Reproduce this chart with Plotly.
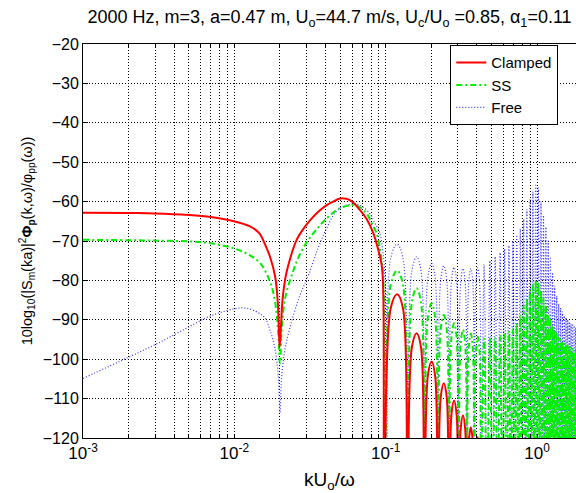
import plotly.graph_objects as go

# ---------------- data ----------------
# main-lobe region, explicit points (x = kU_o/omega, y = dB)
clamped_main_x = [0.001, 0.002, 0.003, 0.005, 0.007, 0.0098, 0.0127, 0.0146, 0.016, 0.0172, 0.0186, 0.0194, 0.0199,
                  0.0203, 0.0208, 0.0214, 0.0221, 0.024, 0.0258, 0.0285, 0.0317, 0.036, 0.0408, 0.045, 0.0497,
                  0.055, 0.06, 0.0675, 0.075, 0.0828, 0.089, 0.0944, 0.0965, 0.098]
clamped_main_db = [-62.8, -62.9, -63.0, -63.4, -63.9, -64.9, -66.3, -68.0, -71.0, -74.0, -79.0, -86.0, -97.0,
                   -92.0, -85.0, -81.0, -78.0, -73.0, -69.7, -67.0, -64.7, -62.5, -60.9, -60.0, -59.2,
                   -59.3, -60.0, -62.1, -64.5, -68.0, -72.0, -76.5, -84.0, -140.0]

ss_main_x = [0.001, 0.002, 0.003, 0.005, 0.007, 0.0098, 0.0125, 0.0148, 0.0172, 0.0185, 0.0195, 0.02,
             0.0206, 0.0218, 0.0246, 0.027, 0.0302, 0.035, 0.0408, 0.0497, 0.061, 0.068, 0.0748, 0.081,
             0.087, 0.0925, 0.0965, 0.1]
ss_main_db = [-69.7, -69.8, -69.9, -70.1, -70.6, -71.8, -73.5, -75.6, -80.3, -85.0, -93.0, -101.0,
              -92.0, -84.0, -77.4, -73.5, -70.2, -67.0, -64.2, -61.7, -60.9, -61.5, -63.0, -65.5,
              -68.0, -73.0, -80.0, -140.0]

free_main_x = [0.001, 0.002, 0.003, 0.004, 0.005, 0.0065, 0.008, 0.01, 0.0115, 0.013, 0.0148, 0.016, 0.0172,
               0.0185, 0.0195, 0.02, 0.0205, 0.0215, 0.0234, 0.027, 0.031, 0.036, 0.041, 0.046, 0.052, 0.058,
               0.063, 0.07, 0.0785, 0.085, 0.0915, 0.096, 0.099, 0.101, 0.103]
free_main_db = [-104.9, -99.5, -96.3, -93.8, -91.8, -89.5, -88.2, -87.2, -87.0, -87.4, -88.5, -89.6, -92.6,
                -97.0, -104.0, -113.5, -105.0, -98.0, -91.7, -84.0, -78.5, -71.5, -66.5, -63.0, -61.3, -60.7,
                -60.6, -61.3, -63.0, -65.5, -68.0, -73.0, -79.0, -88.0, -140.0]

# side-lobe peaks and nulls (x positions shared by the three cases)
lobe_peak_x = [0.119, 0.160, 0.201, 0.242, 0.283, 0.324, 0.365, 0.406, 0.447, 0.488, 0.529, 0.570, 0.611, 0.652,
               0.693, 0.734, 0.775, 0.816, 0.857, 0.898, 0.939, 0.980, 1.021, 1.062, 1.103, 1.144, 1.185, 1.226,
               1.267, 1.308, 1.349, 1.390, 1.431, 1.472, 1.513, 1.554, 1.595, 1.636, 1.677, 1.718, 1.759, 1.800]
lobe_null_x = [0.139, 0.180, 0.221, 0.262, 0.303, 0.344, 0.385, 0.426, 0.467, 0.508, 0.549, 0.590, 0.631, 0.672,
               0.713, 0.754, 0.795, 0.836, 0.877, 0.918, 0.959, 1.000, 1.041, 1.082, 1.123, 1.164, 1.205, 1.246,
               1.287, 1.328, 1.369, 1.410, 1.451, 1.492, 1.533, 1.574, 1.615, 1.656, 1.697, 1.738, 1.779, 1.820]
# shoulders of the first, clearly visible side lobes
lobe_left_x = [0.108, 0.149, 0.190, 0.231, 0.272, 0.313, 0.354, 0.395]
lobe_right_x = [0.130, 0.171, 0.212, 0.253, 0.294, 0.335, 0.376, 0.417]
null_floor_db = -140.0

clamped_peak_db = [-83.5, -93.4, -100.6, -106.1, -110.5, -114.2, -117.3, -119.8, -122.0, -124.0]
clamped_shoulder_db = [-87.0, -96.9, -104.1, -109.6, -114.0, -117.7, -120.8, -123.3]
ss_peak_db = [-77.5, -82.0, -85.8, -88.8, -90.9, -92.5, -93.5, -94.3, -94.8, -94.8, -94.5, -94.0, -93.5, -93.0,
              -92.3, -91.0, -89.0, -86.5, -84.5, -82.5, -81.0, -80.0, -80.5, -82.5, -84.5, -86.5, -88.5, -90.0,
              -91.5, -92.5, -93.5, -94.5, -95.0, -95.5, -96.0, -96.0, -96.5, -97.0, -97.0, -97.5, -98.0, -98.0]
ss_shoulder_db = [-81.0, -85.5, -89.3, -92.3, -94.4, -96.0, -97.0, -97.8]
free_peak_db = [-70.8, -74.0, -75.7, -76.3, -76.7, -77.0, -77.0, -76.8, -76.0, -75.0, -74.0, -73.0, -72.0, -71.2,
                -70.0, -68.5, -67.0, -64.5, -62.0, -59.5, -57.5, -55.5, -56.5, -60.0, -63.5, -66.5, -70.0, -74.0,
                -78.0, -81.5, -84.0, -86.0, -87.0, -88.0, -89.0, -89.5, -90.0, -90.5, -91.0, -91.0, -91.5, -92.0]
free_shoulder_db = [-74.3, -77.5, -79.2, -79.8, -80.2, -80.5, -80.5, -80.3]

x_tick_decades = [-3, -2, -1, 0]
y_ticks = [-120, -110, -100, -90, -80, -70, -60, -50, -40, -30, -20]


def build(main_x, main_db, peak_db, shoulder_db):
    xs, ys = list(main_x), list(main_db)
    for i, p in enumerate(peak_db):
        if i < len(shoulder_db):
            xs += [lobe_left_x[i], lobe_peak_x[i], lobe_right_x[i], lobe_null_x[i]]
            ys += [shoulder_db[i], p, shoulder_db[i], null_floor_db]
        else:
            xs += [lobe_peak_x[i], lobe_null_x[i]]
            ys += [p, null_floor_db]
    return xs, ys


fig = go.Figure()
fx, fy = build(free_main_x, free_main_db, free_peak_db, free_shoulder_db)
sx, sy = build(ss_main_x, ss_main_db, ss_peak_db, ss_shoulder_db)
cx, cy = build(clamped_main_x, clamped_main_db, clamped_peak_db, clamped_shoulder_db)

fig.add_trace(go.Scatter(x=fx, y=fy, mode="lines", name="Free", line_shape="spline",
                         line=dict(color="#3a3aff", width=1.2, dash="1px,2px")))
fig.add_trace(go.Scatter(x=sx, y=sy, mode="lines", name="SS", line_shape="spline",
                         line=dict(color="#00ee00", width=2, dash="6px,3px,2px,3px")))
fig.add_trace(go.Scatter(x=cx, y=cy, mode="lines", name="Clamped", line_shape="spline",
                         line=dict(color="#ff0000", width=2)))

# x tick positions: decades plus minor multiples for the grid
tickvals, ticktext = [], []
for d in x_tick_decades:
    for m in range(1, 10):
        v = m * 10 ** d
        if v <= 1.81:
            tickvals.append(v)
            ticktext.append(f"10<sup>{d}</sup>" if m == 1 else "")

font_family = "Arial, Liberation Sans, sans-serif"
fig.update_layout(
    width=576, height=493,
    margin=dict(l=83, r=0, t=44, b=55),
    plot_bgcolor="white", paper_bgcolor="white",
    font=dict(family=font_family, size=16, color="black"),
    title=dict(text="2000 Hz, m=3, a=0.47 m, U<sub>o</sub>=44.7 m/s, U<sub>c</sub>/U<sub>o</sub> =0.85, α<sub>1</sub>=0.11",
               x=0.5, xref="paper", xanchor="center", y=1 - 17 / 493, yref="container", yanchor="middle",
               font=dict(size=18)),
    legend=dict(x=0.745, y=0.997, xanchor="left", yanchor="top", bgcolor="white",
                bordercolor="black", borderwidth=1, traceorder="reversed",
                font=dict(size=15), tracegroupgap=0),
    showlegend=True,
)
fig.update_xaxes(type="log", range=[-3, 0.2574], tickvals=tickvals, ticktext=ticktext,
                 showgrid=True, gridcolor="black", griddash="1px,2px", gridwidth=1,
                 showline=True, linecolor="black", linewidth=1, mirror="ticks",
                 ticks="inside", ticklen=4, tickcolor="black",
                 tickfont=dict(size=17),
                 title=dict(text="kU<sub>o</sub>/ω", standoff=10), zeroline=False)
fig.update_yaxes(range=[-120, -20], tickvals=y_ticks,
                 showgrid=True, gridcolor="black", griddash="1px,2px", gridwidth=1,
                 showline=True, linecolor="black", linewidth=1,
                 ticks="inside", ticklen=5, tickcolor="black",
                 title=dict(text="10log<sub>10</sub>(|S<sub>m</sub>(ka)|<sup>2</sup><b>Φ<sub>p</sub></b>(k,ω)/φ<sub>pp</sub>(ω))",
                            standoff=6, font=dict(size=14.5)),
                 zeroline=False)

fig.write_html("out.html")
